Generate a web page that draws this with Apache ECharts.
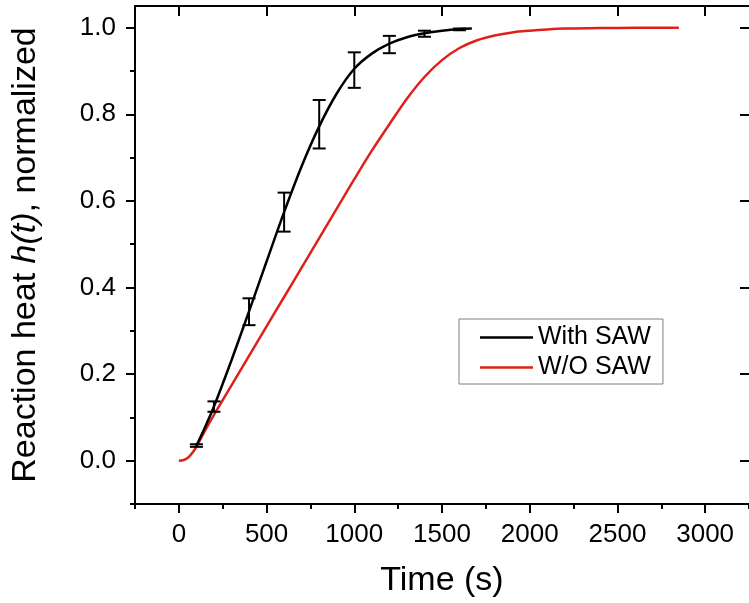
<!DOCTYPE html>
<html>
<head>
<meta charset="utf-8">
<script src="https://cdn.jsdelivr.net/npm/echarts@6/dist/echarts.min.js"></script>
<style>
html,body{margin:0;padding:0;background:#fff;}
#chart{width:749px;height:603px;}
</style>
</head>
<body>
<div id="chart"></div>
<script>
// ---- data ----
const sawTime = [100,150,200,300,400,500,600,700,800,900,1000,1100,1200,1300,1400,1500,1600,1670];
const sawHeat = [0.035,0.078,0.125,0.232,0.345,0.46,0.574,0.68,0.772,0.848,0.905,0.94,0.963,0.978,0.987,0.993,0.997,0.998];

const barTime = [100,200,400,600,800,1000,1200,1400,1600];
const barMean = [0.035,0.125,0.344,0.574,0.777,0.902,0.961,0.986,0.996];
const barErr  = [0.003,0.012,0.031,0.045,0.056,0.041,0.020,0.007,0.002];

const noSawTime = [0,25,50,75,100,150,200,300,400,500,600,700,800,900,1000,1100,1200,1300,1400,1500,1600,1700,1800,1900,2000,2100,2200,2400,2600,2850];
const noSawHeat = [0.0,0.001,0.006,0.017,0.032,0.07,0.106,0.174,0.242,0.310,0.378,0.446,0.514,0.582,0.650,0.716,0.777,0.836,0.886,0.925,0.953,0.971,0.982,0.989,0.993,0.996,0.998,0.999,1.0,1.0];

const xMajor = [0,500,1000,1500,2000,2500,3000];
const xMinor = [-250,250,750,1250,1750,2250,2750,3250];
const yMajor = [0,0.2,0.4,0.6,0.8,1.0];
const yMinor = [-0.1,0.1,0.3,0.5,0.7,0.9];

const seriesNames = ['With SAW','W/O SAW'];

// ---- chart ----
const FONT = "'Liberation Sans', Arial, Helvetica, sans-serif";
const BLACK = '#000000';
const RED = '#e0201c';

const chart = echarts.init(document.getElementById('chart'), null, {renderer:'canvas'});

const baseX = {type:'value', min:-250, max:3250, interval:250, gridIndex:0, splitLine:{show:false}};
const baseY = {type:'value', min:-0.1, max:1.05, interval:0.1, gridIndex:0, splitLine:{show:false}};

const option = {
  animation:false,
  backgroundColor:'#ffffff',
  textStyle:{fontFamily:FONT},
  grid:{left:135, right:-3.5, top:6, bottom:98, containLabel:false},
  legend:{
    orient:'vertical',
    left:459, top:319,
    data:seriesNames.map(n=>({name:n, icon:'rect'})),
    itemWidth:53, itemHeight:2.5, itemGap:5,
    padding:[6,12,4,21],
    borderColor:'#808080', borderWidth:1, backgroundColor:'#fff',
    textStyle:{fontSize:25, lineHeight:24, color:BLACK, fontFamily:FONT},
    selectedMode:false
  },
  xAxis:[
    Object.assign({}, baseX, {
      position:'bottom',
      axisLine:{show:true, onZero:false, lineStyle:{color:BLACK, width:2}},
      axisTick:{show:true, inside:false, length:9, customValues:xMajor, lineStyle:{color:BLACK, width:2}},
      axisLabel:{show:true, customValues:xMajor, fontSize:26, color:BLACK, margin:18, fontFamily:FONT, formatter:v=>String(v)},
      name:'Time (s)', nameLocation:'middle', nameGap:60,
      nameTextStyle:{fontSize:34, color:BLACK, fontFamily:FONT}
    }),
    Object.assign({}, baseX, {
      position:'bottom',
      axisLine:{show:false, onZero:false},
      axisTick:{show:true, inside:false, length:5, customValues:xMinor, lineStyle:{color:BLACK, width:2}},
      axisLabel:{show:false}
    }),
    Object.assign({}, baseX, {
      position:'top',
      axisLine:{show:true, onZero:false, lineStyle:{color:BLACK, width:2}},
      axisTick:{show:true, inside:true, length:10, customValues:xMajor, lineStyle:{color:BLACK, width:2}},
      axisLabel:{show:false}
    })
  ],
  yAxis:[
    Object.assign({}, baseY, {
      position:'left',
      axisLine:{show:true, onZero:false, lineStyle:{color:BLACK, width:2}},
      axisTick:{show:true, inside:false, length:9, customValues:yMajor, lineStyle:{color:BLACK, width:2}},
      axisLabel:{show:true, customValues:yMajor, fontSize:26, color:BLACK, margin:19, fontFamily:FONT, formatter:v=>v.toFixed(1)},
      name:'{n|Reaction heat }{i|h(t)}{n|, normalized}',
      nameLocation:'middle', nameGap:92, nameRotate:90,
      nameTextStyle:{
        color:BLACK, fontSize:34, fontFamily:FONT,
        rich:{
          n:{fontSize:34, color:BLACK, fontFamily:FONT},
          i:{fontSize:34, color:BLACK, fontFamily:FONT, fontStyle:'italic'}
        }
      }
    }),
    Object.assign({}, baseY, {
      position:'left',
      axisLine:{show:false, onZero:false},
      axisTick:{show:true, inside:false, length:5, customValues:yMinor, lineStyle:{color:BLACK, width:2}},
      axisLabel:{show:false}
    }),
    Object.assign({}, baseY, {
      position:'right',
      axisLine:{show:false, onZero:false},
      axisTick:{show:true, inside:true, length:9, customValues:yMajor, lineStyle:{color:BLACK, width:2}},
      axisLabel:{show:false}
    })
  ],
  series:[
    {
      name:seriesNames[1], type:'line', xAxisIndex:0, yAxisIndex:0,
      data:noSawTime.map((t,i)=>[t, noSawHeat[i]]),
      smooth:0.3, symbol:'none', showSymbol:false,
      lineStyle:{color:RED, width:2.5}, itemStyle:{color:RED}, z:2
    },
    {
      name:seriesNames[0], type:'line', xAxisIndex:0, yAxisIndex:0,
      data:sawTime.map((t,i)=>[t, sawHeat[i]]),
      smooth:0.3, symbol:'none', showSymbol:false,
      lineStyle:{color:BLACK, width:2.5}, itemStyle:{color:BLACK}, z:3
    },
    {
      name:'errors', type:'custom', xAxisIndex:0, yAxisIndex:0, z:4,
      data:barTime.map((t,i)=>[t, barMean[i]-barErr[i], barMean[i]+barErr[i]]),
      encode:{x:0, y:[1,2]},
      renderItem:function(params, api){
        const x = api.value(0);
        const top = api.coord([x, api.value(2)]);
        const bot = api.coord([x, api.value(1)]);
        const hw = 6.5;
        const st = {stroke:BLACK, lineWidth:2};
        return {type:'group', children:[
          {type:'line', shape:{x1:top[0], y1:top[1], x2:bot[0], y2:bot[1]}, style:st},
          {type:'line', shape:{x1:top[0]-hw, y1:top[1], x2:top[0]+hw, y2:top[1]}, style:st},
          {type:'line', shape:{x1:bot[0]-hw, y1:bot[1], x2:bot[0]+hw, y2:bot[1]}, style:st}
        ]};
      }
    }
  ]
};
chart.setOption(option);
</script>
</body>
</html>
